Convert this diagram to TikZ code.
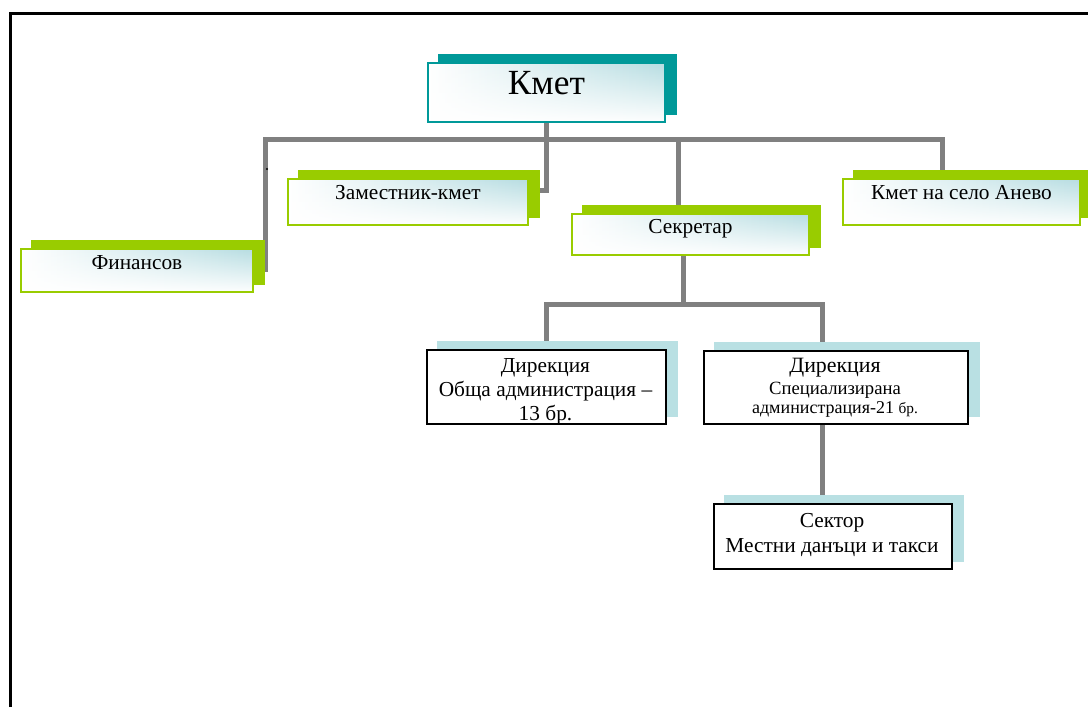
\documentclass[tikz,border=0pt]{standalone}
\usepackage{fontspec}
\setmainfont{Liberation Serif}
\usetikzlibrary{fadings}
\definecolor{lgreen}{HTML}{99CC00}
\definecolor{tealc}{HTML}{009999}
\definecolor{lgray}{HTML}{808080}
\definecolor{lblue}{HTML}{B5DCE1}
\definecolor{sblue}{HTML}{B9E0E3}
\pgfdeclarelayer{lines}
\pgfdeclarelayer{shadowl}
\pgfdeclarelayer{filll}
\pgfsetlayers{lines,shadowl,filll,main}
\tikzset{
  conn/.style={draw=lgray, line width=3.75pt},
  frontbox/.style={anchor=north west, inner xsep=0pt, inner ysep=0pt, line width=1.4pt},
  greenbox/.style={frontbox, draw=lgreen, font=\fontsize{16}{19}\selectfont},
  tealbox/.style={frontbox, draw=tealc, font=\fontsize{26.5}{30}\selectfont},
  lowbox/.style={anchor=north west, draw=black, fill=white, line width=1.4pt, inner sep=0pt},
  lowtext/.style={anchor=base, inner sep=0pt}
}
% shadow + gradient fill behind a named box
\newcommand\boxback[3]{% name, shadow colour, gradient (1) or not (0)
  \begin{pgfonlayer}{shadowl}
    \fill[#2] ([xshift=8.25pt,yshift=6pt]#1.south west) rectangle ([xshift=8.25pt,yshift=6pt]#1.north east);
  \end{pgfonlayer}
  \ifnum#3=1
  \begin{pgfonlayer}{filll}
    \shade[left color=white, right color=lblue] (#1.south west) rectangle (#1.north east);
    \fill[white, path fading=north] (#1.south west) rectangle (#1.north east);
  \end{pgfonlayer}
  \fi
}
\begin{document}
\begin{tikzpicture}[x=0.75pt, y=-0.75pt]
\useasboundingbox (0,0) rectangle (1088,707);
% frame
\draw[line width=2.25pt, line cap=butt] (10.5,707) -- (10.5,13.5) -- (1088,13.5);

% top level boxes
\node[tealbox, minimum width=177.75pt, minimum height=44.25pt, text height=24pt, text depth=20.25pt] (kmet) at (427,62) {Кмет};
\node[greenbox, minimum width=174pt, minimum height=32.25pt, text height=15.75pt, text depth=16.5pt] (fin) at (20,248) {Финансов};
\node[greenbox, minimum width=180pt, minimum height=34.5pt, text height=15.75pt, text depth=18.75pt] (zam) at (287,178) {Заместник-кмет};
\node[greenbox, minimum width=177.75pt, minimum height=30.75pt, text height=15pt, text depth=15.75pt] (sek) at (571,213) {Секретар};
\node[greenbox, minimum width=177.75pt, minimum height=34.5pt, text height=15.75pt, text depth=18.75pt] (anevo) at (842,178) {Кмет на село Анево};
\boxback{kmet}{tealc}{1}
\boxback{fin}{lgreen}{1}
\boxback{zam}{lgreen}{1}
\boxback{sek}{lgreen}{1}
\boxback{anevo}{lgreen}{1}

% lower boxes
\node[lowbox, minimum width=179.25pt, minimum height=55.5pt] (obsh) at (426,349) {};
\node[lowbox, minimum width=198pt, minimum height=54.75pt] (spec) at (703,350) {};
\node[lowbox, minimum width=178.5pt, minimum height=48.75pt] (sektor) at (713,503) {};
\boxback{obsh}{sblue}{0}
\boxback{spec}{sblue}{0}
\boxback{sektor}{sblue}{0}

\node[lowtext, font=\fontsize{16}{18}\selectfont] (obshA) at (545.5,372) {Дирекция};
\node[lowtext, font=\fontsize{16}{18}\selectfont] (obshB) at (545.5,396) {Обща администрация –};
\node[lowtext, font=\fontsize{16}{18}\selectfont] (obshC) at (545.5,420) {13 бр.};
\node[lowtext, font=\fontsize{16.4}{18}\selectfont] (specA) at (835,372) {Дирекция};
\node[lowtext, font=\fontsize{14}{16}\selectfont] (specB) at (835,394) {Специализирана};
\node[lowtext, font=\fontsize{13.5}{16}\selectfont] (specC) at (835,413) {администрация-21 {\fontsize{11.5}{13}\selectfont бр.}};
\node[lowtext, font=\fontsize{16}{18}\selectfont] (sektorA) at (832,527) {Сектор};
\node[lowtext, font=\fontsize{16}{18}\selectfont] (sektorB) at (832,552) {Местни данъци и такси};

% small dot
\fill (267,169) circle (0.8pt);

% connectors
\begin{pgfonlayer}{lines}
\coordinate (bar) at (0,139);
\coordinate (bar2) at (0,304);
\coordinate (finEnd) at (265,272);
\coordinate (anTop) at ([xshift=-14.25pt]anevo.north);
\coordinate (sekTop) at ([xshift=-9pt]sek.north);
\coordinate (sekBot) at ([xshift=-4.9pt]sek.south);
\coordinate (specTop) at ([xshift=-9.75pt]spec.north);
\coordinate (specBot) at ([xshift=-9.75pt]spec.south);
\draw[conn] (finEnd) -- (finEnd |- bar) -| (anTop);
\draw[conn] (kmet.south) |- ([yshift=8.25pt]zam.east);
\draw[conn] (sekTop |- bar) -- (sekTop);
\draw[conn] (sekBot) -- (sekBot |- bar2);
\draw[conn] (obsh.north) -- (obsh.north |- bar2) -| (specTop);
\draw[conn] (specBot) -- (specBot |- sektor.north);
\end{pgfonlayer}
\end{tikzpicture}
\end{document}
